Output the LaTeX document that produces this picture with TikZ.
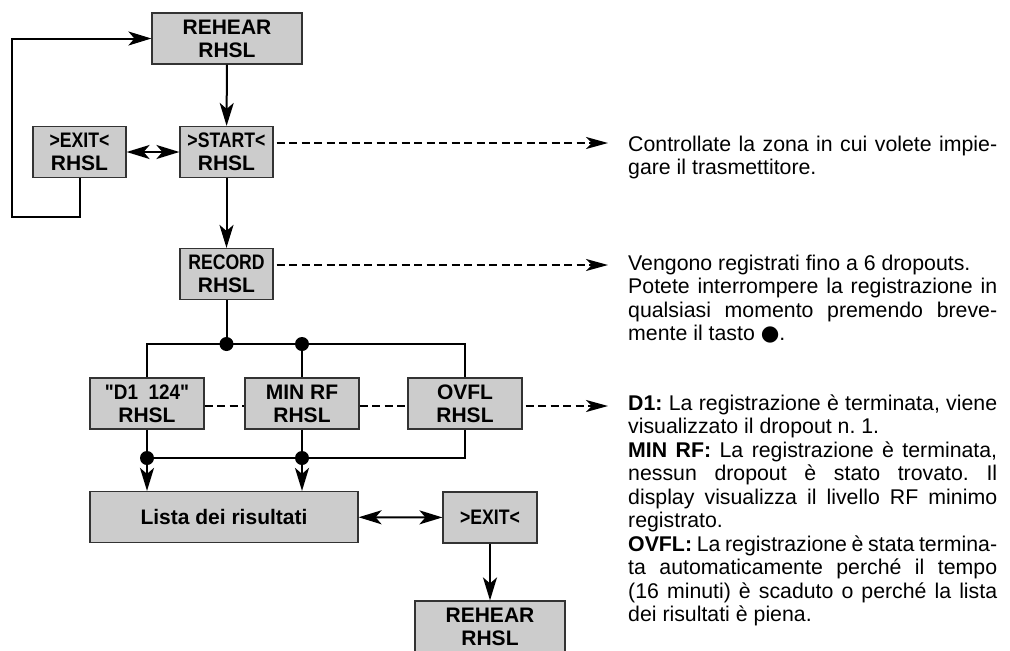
\documentclass[tikz,border=0pt]{standalone}
\usepackage{fontspec}
\setmainfont{Liberation Sans}
\newfontfamily\symfont{DejaVu Sans}
\usepackage{graphicx}
\usepackage{tikz}
\usetikzlibrary{arrows.meta,calc}
\newcommand{\cond}[2][0.84]{\scalebox{#1}[1]{#2}}
\newcommand{\notefont}{\fontsize{21.3}{23.5}\selectfont\frenchspacing\tolerance=9999 \hyphenpenalty=10000 }

\begin{document}
\begin{tikzpicture}[
    x=1pt, y=-1pt,
    every node/.style={font=\fontsize{20}{23}\selectfont},
    box/.style={draw=bord, fill=panel, line width=1.2pt, minimum width=#1, minimum height=51pt, inner sep=0pt, align=center, font=\bfseries\fontsize{21}{23}\selectfont},
    wire/.style={line width=2pt, black},
    arr/.style={wire, -{Stealth[length=23pt, width=14pt, inset=6pt]}},
    darr/.style={wire, {Stealth[length=23pt, width=14pt, inset=6pt]}-{Stealth[length=23pt, width=14pt, inset=6pt]}},
    dashline/.style={wire, dash pattern=on 8pt off 4.5pt},
    dasharr/.style={dashline, shorten <=3pt, -{Stealth[length=22pt, width=12pt, inset=6pt]}},
    junction/.style={circle, fill=black, inner sep=0pt, minimum size=14pt},
    note/.style={anchor=base west, text width=369pt, align=justify, inner sep=0pt, font=\notefont},
  ]
    \definecolor{panel}{HTML}{cccccc}
    \definecolor{bord}{HTML}{333333}
    \useasboundingbox (0,0) rectangle (1010,651);

    % menu boxes
    \node[box=150pt] (reh1) at (227,38.5) {REHEAR\\RHSL};
    \node[box=93pt] (exit1) at (79.5,152) {\cond{>EXIT<}\\RHSL};
    \node[box=93pt] (start) at (226.5,152) {\cond{>START<}\\RHSL};
    \node[box=93pt] (rec) at (226.5,274) {\cond{RECORD}\\RHSL};

    \node[box=114pt] (d1) at (147,403.5) {\cond[0.9]{\textquotedbl D1\ \ 124\textquotedbl}\\RHSL};
    \node[box=114pt] (minrf) at (302,403.5) {MIN RF\\RHSL};
    \node[box=114pt] (ovfl) at (465,403.5) {OVFL\\RHSL};

    \node[box=268pt] (list) at (224,517) {Lista dei risultati};
    \node[box=94pt] (exit2) at (490,517.5) {\cond{>EXIT<}};
    \node[box=150pt] (reh2) at (490,626.5) {REHEAR\\RHSL};

    % explanations
    \node[note] (txt1) at (628,151) {Controllate la zona in cui volete impie-\linebreak
      gare il trasmettitore.\par};
    \node[note] (txt2) at (628,270) {Vengono registrati fino a 6 dropouts.\\
      Potete interrompere la registrazione in\linebreak
      qualsiasi momento premendo breve-\linebreak
      mente il tasto {\symfont ●}.\par};
    \node[note] (txt3) at (628,410) {\textbf{D1:} La registrazione è terminata, viene\linebreak
      visualizzato il dropout n. 1.\\
      \textbf{MIN RF:} La registrazione è terminata,\linebreak
      nessun dropout è stato trovato. Il\linebreak
      display visualizza il livello RF minimo\linebreak
      registrato.\\
      \textbf{OVFL:} La registrazione è stata termina-\linebreak
      ta automaticamente perché il tempo\linebreak
      (16 minuti) è scaduto o perché la lista\linebreak
      dei risultati è piena.\par};

    % main chain and loop back
    \draw[arr] (reh1) -- (start);
    \draw[arr] (start) -- (rec);
    \draw[darr] (exit1) -- (start);
    \coordinate (loop) at (12,217);
    \draw[arr] (exit1.south) |- (loop) |- (reh1.west);

    % dashed links to the explanations
    \coordinate (tip1) at (608,143);
    \coordinate (tip2) at (608,265);
    \coordinate (tip3) at (608,406);
    \draw[dasharr] (start.east |- tip1) -- (tip1);
    \draw[dasharr] (rec.east |- tip2) -- (tip2);
    \draw[dashline] (d1.east |- tip3) -- (minrf.west |- tip3);
    \draw[dashline] (minrf.east |- tip3) -- (ovfl.west |- tip3);
    \draw[dasharr] (ovfl.east |- tip3) -- (tip3);

    % branching after RECORD
    \coordinate (bus1) at (rec.south |- 0,344);
    \draw[wire] (rec) -- (bus1);
    \draw[wire] (d1.north) |- (bus1) -| (ovfl.north);
    \draw[wire] (minrf.north) -- (minrf.north |- bus1);
    \node[junction] (j1) at (bus1) {};
    \node[junction] (j2) at (minrf.north |- bus1) {};

    % results collected
    \coordinate (bus2) at (d1.south |- 0,458);
    \draw[wire] (ovfl.south) |- (bus2);
    \draw[arr] (d1.south) -- (d1.south |- list.north);
    \draw[arr] (minrf.south) -- (minrf.south |- list.north);
    \node[junction] (j3) at (bus2) {};
    \node[junction] (j4) at (minrf.south |- bus2) {};

    \draw[darr] (list) -- (exit2);
    \draw[arr] (exit2) -- (reh2);
  \end{tikzpicture}
\end{document}
